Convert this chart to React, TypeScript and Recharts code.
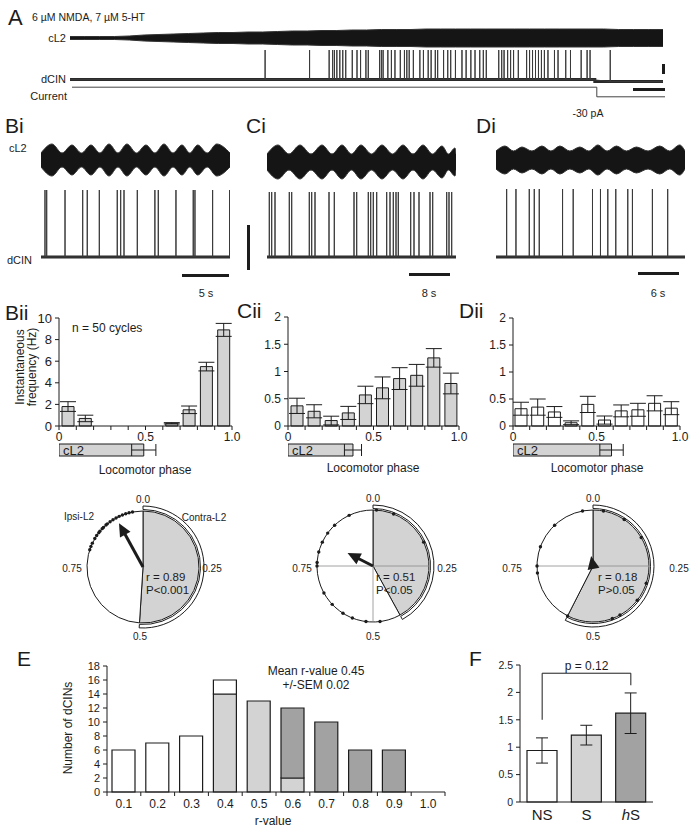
import React from 'react'
import {
  BarChart, Bar, XAxis, YAxis, ErrorBar, LabelList, Cell, PieChart, Pie,
  ScatterChart, Scatter, ReferenceLine, LineChart, Line, AreaChart, Area,
} from 'recharts'

const FONT = '"Liberation Sans", Arial, Helvetica, sans-serif'
const INK = '#1c1c1c'
const LIGHT = '#d3d3d3'
const DARK = '#a2a2a2'
const ZERO = { top: 0, right: 0, bottom: 0, left: 0 }

// ---- A: long recording (time in arbitrary units 0-100)
const aEnvT = [0, 2.5, 5, 7.5, 10, 12.5, 15, 17.5, 20, 22.5, 25, 27.5, 30, 32.5, 35, 37.5, 40, 42.5, 45, 47.5, 50, 52.5, 55, 57.5, 60, 62.5, 65, 67.5, 70, 72.5, 75, 77.5, 80, 82.5, 85, 87.5, 90, 92.5, 95, 97.5, 100]
const aEnv = [1.5, 1.5, 1.5, 1.5, 2, 3, 3.5, 4, 4.5, 5, 5.5, 5.5, 6, 6, 6.5, 7, 7, 7.5, 7.5, 8, 8, 8.5, 8.5, 8.5, 9, 9, 9, 9, 9, 9, 9, 9, 9, 9, 9, 9, 9, 8.5, 8.5, 8.5, 8.5]
const aSpikes = [32.9, 40.4, 43.7, 44.3, 44.6, 45.0, 45.5, 46.0, 46.5, 47.6, 48.4, 49.0, 49.9, 50.3, 52.2, 52.5, 52.8, 53.6, 54.2, 54.8, 55.7, 56.4, 56.8, 57.2, 57.9, 59.0, 59.6, 60.4, 60.9, 61.6, 62.0, 63.0, 63.7, 64.2, 65.0, 66.1, 66.8, 67.6, 68.3, 69.1, 69.7, 70.2, 72.3, 72.8, 73.2, 73.8, 74.3, 74.8, 75.6, 77.0, 77.5, 78.0, 78.5, 79.0, 79.5, 80.0, 80.6, 81.7, 82.3, 83.6, 84.4, 86.2, 87.2, 87.7, 91.1]
const currentT = [0, 88.5, 100]
const currentPA = [0, -30, -30]

// ---- Bi / Ci / Di traces (seconds)
const biBursts = [1.16, 3.26, 5.26, 7.16, 9.05, 11.05, 12.95, 14.84, 16.5, 18.5]
const biPeaks = [16, 15, 15, 16, 16, 15, 16, 15, 15, 16]
const biSpikes = [0.42, 0.6, 2.53, 4.39, 4.87, 6.14, 8.03, 8.39, 8.74, 10.14, 11.99, 12.35, 14.21, 16.03, 16.21, 18.07, 19.85]
const ciBursts = [2.2, 6.6, 11, 15, 18.8, 23, 27.2, 31.2, 35, 37.6]
const ciPeaks = [17, 17, 17, 17, 17, 17, 17, 17, 16, 14]
const ciSpikes = [0.46, 0.94, 1.6, 4.46, 4.94, 8.46, 8.94, 9.6, 12.4, 13.46, 17.4, 17.94, 20.26, 20.74, 21.26, 21.94, 23.94, 24.6, 25.26, 25.8, 26.26, 28.74, 29.4, 30.4, 32.6, 33.14, 35.94, 36.4, 36.94]
const diBursts = [1.35, 3.9, 6.9, 9.6, 12.6, 15.3, 18.1, 21.1, 24.6, 27.6]
const diPeaks = [14, 13, 14, 14, 13, 15, 14, 13, 14, 15]
const diSpikes = [1.6, 3.0, 5.0, 5.75, 6.5, 10.0, 11.6, 14.5, 15.7, 16.8, 18.0, 19.8, 20.5, 23.5, 25.8]

// ---- Bii / Cii / Dii phase histograms
const phaseBins = [0.05, 0.15, 0.25, 0.35, 0.45, 0.55, 0.65, 0.75, 0.85, 0.95]
const phaseTicks = [0, 0.1, 0.2, 0.3, 0.4, 0.5, 0.6, 0.7, 0.8, 0.9, 1]
const biiFreq = [1.8, 0.7, 0, 0, 0, 0, 0.25, 1.5, 5.5, 8.9]
const biiErr = [0.45, 0.3, 0, 0, 0, 0, 0.06, 0.35, 0.4, 0.6]
const ciiFreq = [0.37, 0.27, 0.1, 0.24, 0.57, 0.7, 0.87, 0.93, 1.25, 0.78]
const ciiErr = [0.14, 0.12, 0.08, 0.12, 0.16, 0.2, 0.2, 0.2, 0.17, 0.19]
const diiFreq = [0.32, 0.35, 0.26, 0.06, 0.4, 0.11, 0.28, 0.3, 0.42, 0.33]
const diiErr = [0.12, 0.15, 0.1, 0.035, 0.15, 0.075, 0.11, 0.12, 0.14, 0.12]
// cL2 burst duration (phase) and its SD
const cl2Burst = [0.49, 0.38, 0.59]
const cl2Err = [0.07, 0.05, 0.07]

// ---- polar plots
const bDots = [0.8, 0.81, 0.82, 0.835, 0.845, 0.855, 0.86, 0.87, 0.875, 0.885, 0.89, 0.9, 0.91, 0.92, 0.93, 0.94, 0.95, 0.96, 0.97]
const cDots = [0.01, 0.06, 0.18, 0.48, 0.52, 0.56, 0.59, 0.63, 0.67, 0.75, 0.76, 0.79, 0.82, 0.85, 0.88, 0.93]
const dDots = [0.03, 0.094, 0.165, 0.3, 0.355, 0.42, 0.444, 0.575, 0.73, 0.75, 0.806, 0.88, 0.97]
const polarBurst = [0.51, 0.42, 0.575]
const meanR = [0.89, 0.51, 0.18]
const meanPhase = [0.92, 0.825, 0.97]

// ---- E: r-value distribution
const rLabels = ['0.1', '0.2', '0.3', '0.4', '0.5', '0.6', '0.7', '0.8', '0.9', '1.0']
const eLight = [0, 0, 0, 14, 13, 2, 0, 0, 0, 0]
const eDark = [0, 0, 0, 0, 0, 10, 10, 6, 6, 0]
const eOpen = [6, 7, 8, 2, 0, 0, 0, 0, 0, 0]

// ---- F
const fGroups = ['NS', 'S', 'hS']
const fMean = [0.94, 1.22, 1.62]
const fErr = [0.23, 0.18, 0.37]
const fFill = ['#ffffff', LIGHT, DARK]

function Txt({ x, y, children, size = 11, anchor = 'left', style = {} }: any) {
  const tx = anchor === 'center' ? '-50%' : anchor === 'right' ? '-100%' : '0'
  return (
    <div style={{ position: 'absolute', left: x, top: y, transform: `translate(${tx},-50%)`, fontSize: size, lineHeight: 1, whiteSpace: 'nowrap', ...style }}>
      {children}
    </div>
  )
}

function Box({ x, y, w, h }: any) {
  return <div style={{ position: 'absolute', left: x, top: y, width: w, height: h, background: INK }} />
}

function envelopeRows(t0: number, t1: number, bursts: number[], peaks: number[], trough: number) {
  const rows: any[] = [{ t: t0, band: [-trough, trough] }]
  bursts.forEach((c, i) => {
    if (i > 0) {
      const m = (bursts[i - 1] + c) / 2
      rows.push({ t: m, band: [-trough, trough] })
    }
    rows.push({ t: c, band: [-peaks[i], peaks[i]] })
  })
  rows.push({ t: t1, band: [-trough, trough] })
  return rows
}

function Band({ left, top, width, height, rows, t0, t1, type = 'monotone' }: any) {
  return (
    <div style={{ position: 'absolute', left, top }}>
      <AreaChart width={width} height={height} data={rows} margin={ZERO}>
        <XAxis type="number" dataKey="t" domain={[t0, t1]} hide />
        <YAxis type="number" domain={[-height / 2, height / 2]} hide />
        <Area dataKey="band" type={type} stroke="#333" strokeWidth={1} fill="#151515" fillOpacity={1} dot={false} activeDot={false} isAnimationActive={false} />
      </AreaChart>
    </div>
  )
}

function SpikeTrain({ left, top, width, height, spikes, t0, t1, yMin, stepAt, drop = 0, baseWidth = 3 }: any) {
  const base = (t: number) => (stepAt != null && t >= stepAt ? -drop : 0)
  const spikeRows: any[] = [{ t: t0, v: 0 }]
  spikes.forEach((s: number) => {
    spikeRows.push({ t: s, v: base(s) }, { t: s, v: 1 }, { t: s, v: base(s) })
  })
  spikeRows.push({ t: t1, v: base(t1) })
  const baseRows = stepAt != null
    ? [{ t: t0, v: 0 }, { t: stepAt, v: 0 }, { t: stepAt, v: -drop }, { t: t1, v: -drop }]
    : [{ t: t0, v: 0 }, { t: t1, v: 0 }]
  return (
    <div style={{ position: 'absolute', left, top }}>
      <LineChart width={width} height={height} margin={ZERO}>
        <XAxis type="number" dataKey="t" domain={[t0, t1]} hide />
        <YAxis type="number" domain={[yMin, 1]} hide />
        <Line data={baseRows} dataKey="v" type="linear" stroke="#2a2a2a" strokeWidth={baseWidth} dot={false} activeDot={false} isAnimationActive={false} />
        <Line data={spikeRows} dataKey="v" type="linear" stroke="#3a3a3a" strokeWidth={1} dot={false} activeDot={false} isAnimationActive={false} />
      </LineChart>
    </div>
  )
}

// plot area sits at (plotX, plotY) with size plotW x plotH
function PhaseHist({ plotX, plotY, plotW, plotH, mean, err, fill, yMax, yTicks, yFont }: any) {
  const rows = phaseBins.map((p, i) => ({ phase: p, value: mean[i], err: err[i] }))
  const fmt = (v: number) => (v === 0 ? '0' : v === 0.5 ? '0.5' : v === 1 ? '1.0' : '')
  const m = { top: 10, right: 14, bottom: 0, left: 0 }
  return (
    <div style={{ position: 'absolute', left: plotX - 30, top: plotY - m.top }}>
      <BarChart width={plotW + 30 + m.right} height={plotH + m.top + 20} data={rows} margin={m}>
        <XAxis dataKey="phase" type="number" domain={[0, 1]} ticks={phaseTicks} interval={0} tickFormatter={fmt} height={20}
          stroke={INK} tick={{ fontSize: 12, fill: INK }} tickSize={4} tickMargin={2} />
        <YAxis type="number" domain={[0, yMax]} ticks={yTicks} interval={0} width={30}
          stroke={INK} tick={{ fontSize: yFont, fill: INK }} tickSize={4} tickMargin={3} />
        <Bar dataKey="value" fill={fill} stroke={INK} strokeWidth={1} barSize={12} isAnimationActive={false}>
          <ErrorBar dataKey="err" direction="y" width={8} stroke={INK} strokeWidth={1} />
        </Bar>
      </BarChart>
    </div>
  )
}

function BurstBox({ left, top, width, end, err }: any) {
  const rows = [{ name: 'cL2', end, err }]
  return (
    <div style={{ position: 'absolute', left, top }}>
      <BarChart layout="vertical" width={width} height={14} data={rows} margin={ZERO}>
        <XAxis type="number" domain={[0, 1]} hide />
        <YAxis type="category" dataKey="name" hide />
        <Bar dataKey="end" fill={LIGHT} stroke={INK} strokeWidth={1} barSize={12} isAnimationActive={false}>
          <ErrorBar dataKey="err" direction="x" width={6} stroke={INK} strokeWidth={1} />
          <LabelList dataKey="name" position="insideLeft" offset={4} fill={INK} fontSize={13} />
        </Bar>
      </BarChart>
    </div>
  )
}

function PhaseCircle({ cx, cy, burst, dots, r, phase, cross, labels }: any) {
  const S = 150
  const R = 56
  const D = S / (2 * R)
  const dotXY = dots.map((p: number) => ({ x: Math.sin(2 * Math.PI * p), y: Math.cos(2 * Math.PI * p) }))
  const ux = Math.sin(2 * Math.PI * phase)
  const uy = Math.cos(2 * Math.PI * phase)
  const head = 11 / R
  const shaft = Math.max(r - head * 0.8, 0)
  const tip = [{ x: r * ux, y: r * uy }]
  const deg = phase * 360
  const split = [{ v: burst }, { v: 1 - burst }]
  const dotShape = (p: any) => <circle cx={p.cx} cy={p.cy} r={1.7} fill={INK} />
  const headShape = (p: any) => (
    <polygon points="0,0 -6,13 6,13" fill={INK} transform={`translate(${p.cx},${p.cy}) rotate(${deg})`} />
  )
  return (
    <>
      <div style={{ position: 'absolute', left: cx - S / 2, top: cy - S / 2, width: S, height: S }}>
        <div style={{ position: 'absolute', left: 0, top: 0 }}>
          <PieChart width={S} height={S} margin={ZERO}>
            <Pie data={split} dataKey="v" cx={S / 2} cy={S / 2} innerRadius={R + 1.5} outerRadius={R + 5} startAngle={90} endAngle={-270} isAnimationActive={false}>
              <Cell fill="#ffffff" stroke={INK} strokeWidth={1} />
              <Cell fill="none" stroke="none" />
            </Pie>
            <Pie data={split} dataKey="v" cx={S / 2} cy={S / 2} innerRadius={0} outerRadius={R} startAngle={90} endAngle={-270} isAnimationActive={false}>
              <Cell fill={LIGHT} stroke={INK} strokeWidth={1} />
              <Cell fill="#ffffff" stroke={INK} strokeWidth={1} />
            </Pie>
          </PieChart>
        </div>
        <div style={{ position: 'absolute', left: 0, top: 0 }}>
          <ScatterChart width={S} height={S} margin={ZERO}>
            <XAxis type="number" dataKey="x" domain={[-D, D]} hide />
            <YAxis type="number" dataKey="y" domain={[-D, D]} hide />
            {cross >= 1 && <ReferenceLine segment={[{ x: -1, y: 0 }, { x: 1, y: 0 }]} stroke="#8a8a8a" strokeWidth={0.8} />}
            {cross >= 2 && <ReferenceLine segment={[{ x: 0, y: 0 }, { x: 0, y: -1 }]} stroke="#8a8a8a" strokeWidth={0.8} />}
            <Scatter data={dotXY} shape={dotShape} isAnimationActive={false} />
            {shaft > 0 && <ReferenceLine segment={[{ x: 0, y: 0 }, { x: shaft * ux, y: shaft * uy }]} stroke={INK} strokeWidth={3} />}
            <Scatter data={tip} shape={headShape} isAnimationActive={false} />
          </ScatterChart>
        </div>
      </div>
      {labels.map((l: any) => (
        <Txt key={l[0]} x={l[1]} y={l[2]} size={10} anchor="center">{l[0]}</Txt>
      ))}
    </>
  )
}

function RHist() {
  const rows = rLabels.map((_, i) => ({ mid: i + 0.5, light: eLight[i], dark: eDark[i], open: eOpen[i] }))
  const ticks = [0, 0.5, 1, 1.5, 2, 2.5, 3, 3.5, 4, 4.5, 5, 5.5, 6, 6.5, 7, 7.5, 8, 8.5, 9, 9.5, 10]
  const tick = (p: any) => {
    const v = p.payload.value
    if (Number.isInteger(v)) return <line x1={p.x} x2={p.x} y1={p.y} y2={p.y + 4} stroke={INK} />
    return <text x={p.x} y={p.y + 16} textAnchor="middle" fontSize={12} fill={INK}>{rLabels[Math.floor(v)]}</text>
  }
  const m = { top: 10, right: 12, bottom: 0, left: 0 }
  return (
    <div style={{ position: 'absolute', left: 77, top: 666 - m.top }}>
      <BarChart width={338 + 30 + m.right} height={126 + m.top + 20} data={rows} margin={m}>
        <XAxis dataKey="mid" type="number" domain={[0, 10]} ticks={ticks} interval={0} tick={tick} tickLine={false} tickSize={0} tickMargin={0} height={20} stroke={INK} />
        <YAxis type="number" domain={[0, 18]} ticks={[0, 2, 4, 6, 8, 10, 12, 14, 16, 18]} interval={0} width={30}
          stroke={INK} tick={{ fontSize: 11, fill: INK }} tickSize={4} tickMargin={3} />
        <Bar dataKey="light" stackId="r" fill={LIGHT} stroke={INK} strokeWidth={1.2} barSize={23} isAnimationActive={false} />
        <Bar dataKey="dark" stackId="r" fill={DARK} stroke={INK} strokeWidth={1.2} barSize={23} isAnimationActive={false} />
        <Bar dataKey="open" stackId="r" fill="#ffffff" stroke={INK} strokeWidth={1.2} barSize={23} isAnimationActive={false} />
      </BarChart>
    </div>
  )
}

function GroupBars() {
  const rows = fGroups.map((g, i) => ({ group: g, value: fMean[i], err: fErr[i] }))
  const tick = (p: any) => {
    const v = p.payload.value
    return (
      <text x={p.x} y={p.y + 18} textAnchor="middle" fontSize={15} fill={INK}>
        {v === 'hS' ? <><tspan fontStyle="italic">h</tspan>S</> : v}
      </text>
    )
  }
  const m = { top: 10, right: 8, bottom: 0, left: 0 }
  return (
    <div style={{ position: 'absolute', left: 490, top: 665 - m.top }}>
      <BarChart width={133 + 30 + m.right} height={137 + m.top + 26} data={rows} margin={m}>
        <XAxis dataKey="group" tick={tick} tickLine={false} tickSize={0} tickMargin={0} height={26} stroke={INK} />
        <YAxis type="number" domain={[0, 2.5]} ticks={[0, 0.5, 1, 1.5, 2, 2.5]} interval={0} width={30}
          stroke={INK} tick={{ fontSize: 10.5, fill: INK }} tickSize={4} tickMargin={3} />
        <Bar dataKey="value" barSize={30} stroke={INK} strokeWidth={1.2} isAnimationActive={false}>
          {rows.map((r, i) => <Cell key={r.group} fill={fFill[i]} />)}
          <ErrorBar dataKey="err" direction="y" width={6} stroke={INK} strokeWidth={1} />
        </Bar>
        <ReferenceLine segment={[{ x: 'NS', y: 1.5 }, { x: 'NS', y: 2.35 }]} stroke={INK} strokeWidth={1} />
        <ReferenceLine segment={[{ x: 'NS', y: 2.35 }, { x: 'hS', y: 2.35 }]} stroke={INK} strokeWidth={1}
          label={{ value: 'p = 0.12', position: 'top', fontSize: 12, fill: INK, offset: 3 }} />
        <ReferenceLine segment={[{ x: 'hS', y: 2.35 }, { x: 'hS', y: 2.13 }]} stroke={INK} strokeWidth={1} />
      </BarChart>
    </div>
  )
}

export default function App() {
  const current = currentT.map((t, i) => ({ t, pa: currentPA[i] }))
  const aRows = aEnvT.map((t, i) => ({ t, band: [-aEnv[i], aEnv[i]] }))
  return (
    <div style={{ position: 'absolute', left: 0, top: 0, width: 692, height: 828, background: '#fff', fontFamily: FONT, color: INK, overflow: 'hidden' }}>
      {/* A */}
      <Txt x={8} y={18} size={22}>A</Txt>
      <Txt x={32} y={17} size={10.5}>6 µM NMDA, 7 µM 5-HT</Txt>
      <Txt x={66} y={38} size={11} anchor="right">cL2</Txt>
      <Txt x={66} y={79} size={11} anchor="right">dCIN</Txt>
      <Txt x={67} y={96} size={11} anchor="right">Current</Txt>
      <Band left={70} top={26} width={593} height={24} rows={aRows} t0={0} t1={100} type="linear" />
      <SpikeTrain left={70} top={50} width={593} height={33} spikes={aSpikes} t0={0} t1={100} yMin={-0.12} stepAt={88.5} drop={0.07} baseWidth={3} />
      <div style={{ position: 'absolute', left: 72, top: 84 }}>
        <LineChart width={593} height={16} data={current} margin={ZERO}>
          <XAxis type="number" dataKey="t" domain={[0, 100]} hide />
          <YAxis type="number" domain={[-40, 10]} hide />
          <Line dataKey="pa" type="stepAfter" stroke="#444" strokeWidth={1} dot={false} activeDot={false} isAnimationActive={false} />
        </LineChart>
      </div>
      <Box x={662} y={64} w={3} h={10} />
      <Box x={633} y={88} w={32} h={3} />
      <Txt x={588} y={113} size={10.5} anchor="center">-30 pA</Txt>

      {/* Bi Ci Di */}
      <Txt x={5} y={125} size={21}>Bi</Txt>
      <Txt x={246} y={125} size={21}>Ci</Txt>
      <Txt x={476} y={125} size={21}>Di</Txt>
      <Txt x={9} y={148} size={11}>cL2</Txt>
      <Txt x={7} y={260} size={11}>dCIN</Txt>
      <Band left={41} top={138} width={189} height={44} rows={envelopeRows(0, 19.9, biBursts, biPeaks, 7)} t0={0} t1={19.9} />
      <SpikeTrain left={41} top={190} width={189} height={72} spikes={biSpikes} t0={0} t1={19.9} yMin={-0.075} baseWidth={3} />
      <Band left={267} top={140} width={189} height={44} rows={envelopeRows(0, 37.8, ciBursts, ciPeaks, 8)} t0={0} t1={37.8} />
      <SpikeTrain left={267} top={192} width={189} height={70} spikes={ciSpikes} t0={0} t1={37.8} yMin={-0.077} baseWidth={3} />
      <Band left={496} top={138} width={189} height={44} rows={envelopeRows(0, 28.4, diBursts, diPeaks, 9)} t0={0} t1={28.4} />
      <SpikeTrain left={496} top={189} width={189} height={73} spikes={diSpikes} t0={0} t1={28.4} yMin={-0.075} baseWidth={3} />
      <Box x={182} y={274} w={47} h={3} />
      <Txt x={206} y={293} size={11} anchor="center">5 s</Txt>
      <Box x={409} y={273} w={41} h={3} />
      <Txt x={429} y={293} size={11} anchor="center">8 s</Txt>
      <Box x={638} y={272} w={41} h={3} />
      <Txt x={658} y={293} size={11} anchor="center">6 s</Txt>
      <Box x={247} y={225} w={3} h={45} />

      {/* Bii Cii Dii */}
      <Txt x={5} y={312} size={21}>Bii</Txt>
      <Txt x={237} y={310} size={21}>Cii</Txt>
      <Txt x={459} y={310} size={21}>Dii</Txt>
      <div style={{ position: 'absolute', left: 26, top: 367, width: 150, transform: 'translate(-50%,-50%) rotate(-90deg)', textAlign: 'center', fontSize: 12, lineHeight: '12px' }}>
        Instantaneous<br />frequency (Hz)
      </div>
      <Txt x={72} y={328} size={12}>n = 50 cycles</Txt>
      <PhaseHist plotX={59} plotY={318} plotW={173} plotH={108} mean={biiFreq} err={biiErr} fill={LIGHT} yMax={10} yTicks={[0, 2, 4, 6, 8, 10]} yFont={13} />
      <PhaseHist plotX={288} plotY={317} plotW={171} plotH={109} mean={ciiFreq} err={ciiErr} fill={LIGHT} yMax={2} yTicks={[0, 0.5, 1, 1.5, 2]} yFont={12} />
      <PhaseHist plotX={513} plotY={318} plotW={167} plotH={108} mean={diiFreq} err={diiErr} fill="#ffffff" yMax={2} yTicks={[0, 0.5, 1, 1.5, 2]} yFont={12} />
      <BurstBox left={59} top={443} width={173} end={cl2Burst[0]} err={cl2Err[0]} />
      <BurstBox left={288} top={443} width={171} end={cl2Burst[1]} err={cl2Err[1]} />
      <BurstBox left={513} top={443} width={167} end={cl2Burst[2]} err={cl2Err[2]} />
      <Txt x={145} y={470} size={12} anchor="center">Locomotor phase</Txt>
      <Txt x={373} y={468} size={12} anchor="center">Locomotor phase</Txt>
      <Txt x={597} y={468} size={12} anchor="center">Locomotor phase</Txt>

      {/* polar plots */}
      <PhaseCircle cx={143} cy={567} burst={polarBurst[0]} dots={bDots} r={meanR[0]} phase={meanPhase[0]} cross={0}
        labels={[['0.0', 143, 500], ['0.25', 212, 569], ['0.5', 140, 637], ['0.75', 72, 569]]} />
      <PhaseCircle cx={373} cy={566} burst={polarBurst[1]} dots={cDots} r={meanR[1]} phase={meanPhase[1]} cross={2}
        labels={[['0.0', 373, 499], ['0.25', 447, 569], ['0.5', 373, 637], ['0.75', 302, 569]]} />
      <PhaseCircle cx={593} cy={566} burst={polarBurst[2]} dots={dDots} r={meanR[2]} phase={meanPhase[2]} cross={1}
        labels={[['0.0', 593, 499], ['0.25', 679, 569], ['0.5', 593, 637], ['0.75', 512, 569]]} />
      <Txt x={79} y={517} size={10} anchor="center">Ipsi-L2</Txt>
      <Txt x={204} y={518} size={10} anchor="center">Contra-L2</Txt>
      <Txt x={146} y={578} size={11.5}>r = 0.89</Txt>
      <Txt x={146} y={591} size={11.5}>P&lt;0.001</Txt>
      <Txt x={376} y={578} size={11.5}>r = 0.51</Txt>
      <Txt x={376} y={591} size={11.5}>P&lt;0.05</Txt>
      <Txt x={598} y={578} size={11.5}>r = 0.18</Txt>
      <Txt x={598} y={591} size={11.5}>P&gt;0.05</Txt>

      {/* E */}
      <Txt x={17} y={658} size={21}>E</Txt>
      <RHist />
      <Txt x={316} y={671} size={12} anchor="center">Mean r-value 0.45</Txt>
      <Txt x={316} y={685} size={12} anchor="center">+/-SEM 0.02</Txt>
      <Txt x={273} y={821} size={12} anchor="center">r-value</Txt>
      <div style={{ position: 'absolute', left: 68, top: 728, transform: 'translate(-50%,-50%) rotate(-90deg)', fontSize: 12, whiteSpace: 'nowrap' }}>
        Number of dCINs
      </div>

      {/* F */}
      <Txt x={469} y={658} size={21}>F</Txt>
      <GroupBars />
    </div>
  )
}
